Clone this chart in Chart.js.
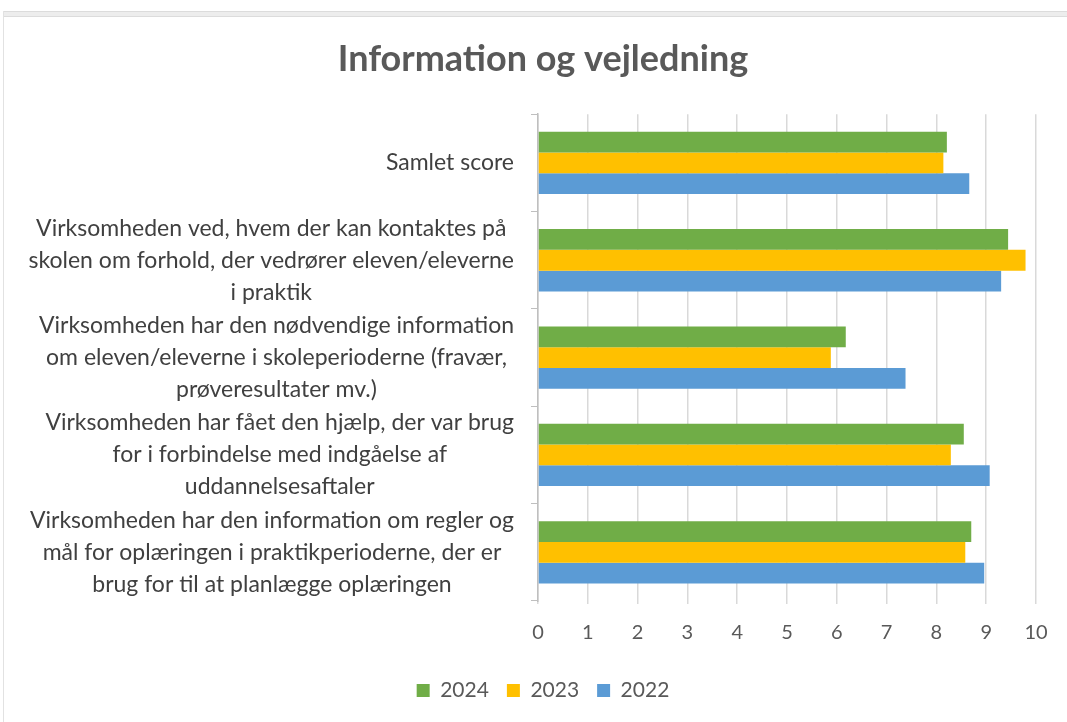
<!DOCTYPE html>
<html>
<head>
<meta charset="utf-8">
<script src="https://cdn.jsdelivr.net/npm/chart.js@4"></script>
<style>
  body { margin: 0; background: #fff; }
  #wrap { position: relative; width: 1067px; height: 722px; }
  .strip { position: absolute; left: 3px; right: 0; top: 11px; height: 4px; background: #ededed; border-top: 1px solid #dcdcdc; border-bottom: 1px solid #dcdcdc; }
  .edge { position: absolute; left: 3px; top: 11px; bottom: 0; width: 1px; background: #e2e2e2; }
</style>
</head>
<body>
<div id="wrap">
  <div class="strip"></div>
  <div class="edge"></div>
  <canvas id="chart" width="1067" height="722"></canvas>
</div>
<script>
const categories = [
  ['Samlet score'],
  ['Virksomheden ved, hvem der kan kontaktes på', 'skolen om forhold, der vedrører eleven/eleverne', 'i praktik'],
  ['Virksomheden har den nødvendige information', 'om eleven/eleverne i skoleperioderne (fravær,', 'prøveresultater mv.)'],
  ['Virksomheden har fået den hjælp, der var brug', 'for i forbindelse med indgåelse af', 'uddannelsesaftaler'],
  ['Virksomheden har den information om regler og', 'mål for oplæringen i praktikperioderne, der er', 'brug for til at planlægge oplæringen']
];
const years = ['2024', '2023', '2022'];
const values2024 = [8.21, 9.44, 6.18, 8.55, 8.70];
const values2023 = [8.14, 9.79, 5.88, 8.29, 8.58];
const values2022 = [8.66, 9.30, 7.38, 9.07, 8.96];
const colors = ['#70AD47', '#FFC000', '#5B9BD5'];

const FONT = 'Lato, "Open Sans", sans-serif';

// multi-line category labels: right-aligned block, lines centred inside it
const categoryLabels = {
  id: 'categoryLabels',
  afterDraw(chart) {
    const scale = chart.scales.y;
    const ctx = chart.ctx;
    ctx.save();
    ctx.font = '23px ' + FONT;
    ctx.fillStyle = '#404040';
    ctx.textAlign = 'center';
    ctx.textBaseline = 'middle';
    const lineH = 32;
    categories.forEach((lines, i) => {
      const y = scale.getPixelForTick(i);
      const maxW = Math.max(...lines.map(l => ctx.measureText(l).width));
      const cx = scale.right - 24 - maxW / 2;
      const y0 = y - (lines.length - 1) * lineH / 2;
      lines.forEach((l, k) => ctx.fillText(l, cx, y0 + k * lineH));
    });
    ctx.restore();
  }
};

new Chart(document.getElementById('chart'), {
  type: 'bar',
  data: {
    labels: categories,
    datasets: [
      { label: years[0], data: values2024, backgroundColor: colors[0] },
      { label: years[1], data: values2023, backgroundColor: colors[1] },
      { label: years[2], data: values2022, backgroundColor: colors[2] }
    ]
  },
  options: {
    indexAxis: 'y',
    responsive: false,
    animation: false,
    layout: { padding: { left: 50, right: 31, top: 0, bottom: 11 } },
    datasets: { bar: { categoryPercentage: 0.64, barPercentage: 1.0 } },
    scales: {
      x: {
        min: 0, max: 10,
        ticks: { stepSize: 1, color: '#595959', font: { family: FONT, size: 20 }, padding: 17 },
        grid: { color: '#d9d9d9', lineWidth: 1.5, tickLength: 3 },
        border: { display: false }
      },
      y: {
        ticks: { display: false },
        grid: { drawOnChartArea: false, offset: true, tickLength: 7, color: '#bfbfbf' },
        border: { display: true, color: '#bfbfbf', width: 1.5 },
        afterFit(scale) { scale.width = 488; }
      }
    },
    plugins: {
      title: {
        display: true,
        text: 'Information og vejledning',
        color: '#595959',
        font: { family: FONT, size: 36, weight: 'bold' },
        padding: { top: 38, bottom: 33 }
      },
      legend: {
        position: 'bottom',
        labels: { color: '#595959', font: { family: FONT, size: 21 }, boxWidth: 13, boxHeight: 13, padding: 18 }
      },
      tooltip: { enabled: false }
    }
  },
  plugins: [categoryLabels]
});
</script>
</body>
</html>
